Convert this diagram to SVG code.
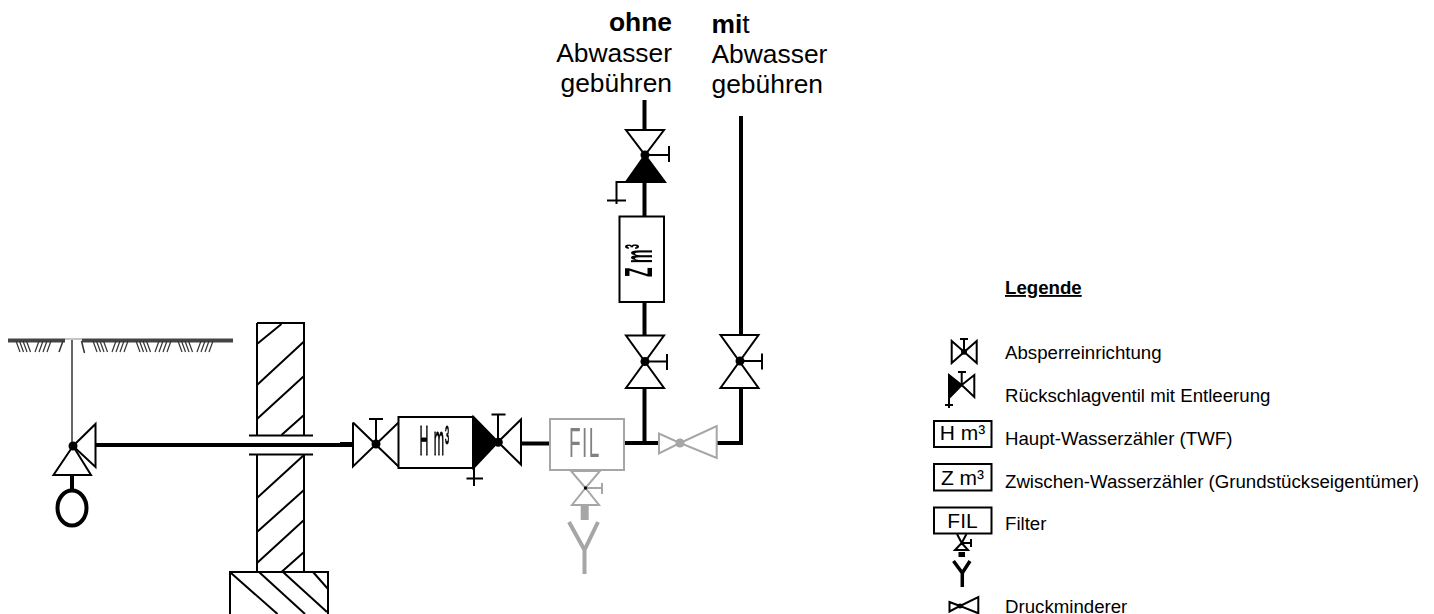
<svg xmlns="http://www.w3.org/2000/svg" width="1434" height="614" viewBox="0 0 1434 614">
<style>
text{font-family:"Liberation Sans",Arial,sans-serif;fill:#000}
.big{font-size:26.4px}
.leg{font-size:18.67px}
.box{font-size:21px}
.ln{fill:none;stroke:#000;stroke-width:2}
.wht{fill:#fff;stroke:#000;stroke-width:2}
.blk{fill:#000;stroke:#000;stroke-width:2}
.gr{fill:none;stroke:#a6a6a6;stroke-width:2}
.grw{fill:#fff;stroke:#a6a6a6;stroke-width:2}
.pipe{fill:none;stroke:#000;stroke-width:4}
.thin{fill:none;stroke:#333;stroke-width:1.5}
.squash{filter:url(#gray)}
</style>
<defs>
<filter id="gray" x="-20%" y="-20%" width="140%" height="140%"><feOffset dx="0" dy="0"/></filter>
<path id="hatch" d="M0 341l4 11M3.500 341l4 11M7 341l4 11M10.500 341l4 11M19 352l4-11M23 352l4-11M27 352l4-11M31 352l4-11" fill="none" stroke="#333" stroke-width="1.200"/>
</defs>
<g id="connectors">
<path class="pipe" d="M95 445H352"/>
<path class="pipe" d="M340 444H353"/>
<path class="pipe" d="M521 443.500H550"/>
<path class="pipe" d="M624 443H659"/>
<path class="pipe" d="M644.500 100V130M644.500 182V217M644.500 302V335M644.500 388V443"/>
<path class="pipe" d="M716 443H741V388M741 335V116"/>
<path d="M584.700 506V520" fill="none" stroke="#a6a6a6" stroke-width="8"/>
</g>
<g id="ground">
<path d="M8 340.500H65M82 340.500H233" fill="none" stroke="#444" stroke-width="4"/>
<path d="M65 339H82" fill="none" stroke="#888" stroke-width="1"/>
<use href="#hatch" x="16"/>
<use href="#hatch" x="93"/>
<use href="#hatch" x="136"/>
<use href="#hatch" x="178"/>
<path d="M59 352l4-11M81.500 341l3 12" fill="none" stroke="#333" stroke-width="1.500"/>
</g>
<g id="wall">
<path class="ln" d="M257 323H304V435M257 323V435M257 454V572M304 454V572M249 435.500H313M249 454.500H313"/>
<path class="ln" d="M281.500 324L257 344M304 341.500L257 385M304 376L257 419M304 415L281.500 435M304 455L257 498M304 490L257 532M304 520L257 563M304 552L281.500 572"/>
<path class="ln" d="M230 614V572H328V614"/>
<path class="ln" d="M231 573L277.500 614M259 572L305 614M283 572L327 612M313 572L328 589"/>
</g>
<g id="hydrant">
<path class="thin" d="M72 340V446"/>
<path class="ln" d="M95.500 424V467L73 446Z"/>
<path class="ln" d="M73 446L53.500 475H91Z"/>
<path class="pipe" d="M72 475V490"/>
<ellipse cx="72" cy="508" rx="14.500" ry="17.500" fill="none" stroke="#000" stroke-width="4"/>
<circle cx="73" cy="446" r="4.500"/>
</g>
<g id="valve-in">
<path class="ln" d="M353 422.500V466.500L398.500 422.500M353 422.500L398.500 466.500M376 444V419M369 419H383"/>
<circle cx="376" cy="444" r="4.500"/>
</g>
<g id="meter-h">
<rect class="wht" x="398.500" y="417" width="74.500" height="51"/>
<text class="squash" transform="translate(419.500 455) scale(.62 2.100)" font-size="20" letter-spacing="1.500" stroke="#000" stroke-width=".4">H m³</text>
</g>
<g id="check-valve">
<path class="blk" d="M473.500 417V468L498 442Z"/>
<path class="ln" d="M474 468V486M466.500 478.500H483"/>
<path class="ln" d="M521 419.500V464.500L498 442ZM498 442V414.500M491.500 414.500H505.500"/>
<circle cx="498.300" cy="442.300" r="4.500"/>
</g>
<g id="filter">
<rect class="grw" x="550" y="419" width="74" height="51"/>
<text class="squash" transform="translate(569 456.500) scale(.95 2.100)" font-size="20" style="fill:#808080" letter-spacing="1.500">FIL</text>
<path class="gr" d="M571 471H600L585.500 488ZM585.500 488L572 505H599ZM585.500 488H602M602 483V494"/>
<circle cx="585.500" cy="488" r="1.700"/>
<path d="M569 522L584.500 550L598 522M584.500 550V574" fill="none" stroke="#a6a6a6" stroke-width="4"/>
</g>
<g id="reducer">
<path class="grw" d="M659 433.500V453.500L680 443ZM716.700 426V458L680 443Z"/>
<circle cx="680" cy="443" r="4.500" fill="#a6a6a6"/>
</g>
<g id="valve-left">
<path class="ln" d="M626 335.500H664L626 388H664ZM645 361.500H667M667 354V370"/>
<circle cx="645" cy="361.500" r="4.500"/>
</g>
<g id="valve-right">
<path class="ln" d="M720.500 335H758.500L720.500 388H758.500ZM740 361H762M762 353.500V369.500"/>
<circle cx="740" cy="361" r="4.500"/>
</g>
<g id="valve-top">
<path class="ln" d="M626 130H664L645 155ZM645 155H669M669 146V162"/>
<path class="blk" d="M645 155L626 182H665Z"/>
<path class="ln" d="M626 182H616.500V204M607 200.500H626"/>
<circle cx="645" cy="155" r="4.500"/>
</g>
<g id="meter-z">
<rect class="wht" x="619.500" y="216.500" width="44.500" height="85.500"/>
<text class="squash" transform="translate(652 277) rotate(-90) scale(.78 1.900)" font-size="20" font-weight="bold">Z m³</text>
</g>
<g id="labels">
<text class="big" x="672" y="31" text-anchor="end" font-weight="bold">ohne</text>
<text class="big" x="672" y="62" text-anchor="end">Abwasser</text>
<text class="big" x="672" y="92" text-anchor="end">gebühren</text>
<text class="big" x="711.500" y="32.500"><tspan font-weight="bold">mi</tspan>t</text>
<text class="big" x="711.500" y="63">Abwasser</text>
<text class="big" x="711.500" y="93">gebühren</text>
</g>
<g id="legend">
<text class="leg" x="1005" y="294" font-weight="bold" text-decoration="underline">Legende</text>
<g id="leg-valve">
<path class="ln" d="M951.700 341V363L976.700 341V363ZM964 352V339M960 339H968"/>
<circle cx="964" cy="351.700" r="3"/>
<text class="leg" x="1005" y="358.500">Absperreinrichtung</text>
</g>
<g id="leg-check">
<path class="blk" d="M949 375V398L961.700 385Z"/>
<path class="ln" d="M974.300 375V397L961.700 385ZM961.700 385V372M958 372H966M949 398V408M945 405H953"/>
<text class="leg" x="1005" y="402">Rückschlagventil mit Entleerung</text>
</g>
<g id="leg-h">
<rect class="wht" x="934" y="421" width="57.500" height="26"/>
<text class="box" x="962.500" y="440" text-anchor="middle">H m³</text>
<text class="leg" x="1005" y="445">Haupt-Wasserzähler (TWF)</text>
</g>
<g id="leg-z">
<rect class="wht" x="934" y="464" width="57.500" height="26.500"/>
<text class="box" x="962.500" y="485" text-anchor="middle">Z m³</text>
<text class="leg" x="1005" y="487.500">Zwischen-Wasserzähler (Grundstückseigentümer)</text>
</g>
<g id="leg-fil">
<rect class="wht" x="934" y="507.500" width="57.500" height="26"/>
<text class="box" x="962.500" y="528" text-anchor="middle">FIL</text>
<text class="leg" x="1005" y="529.500">Filter</text>
<path class="ln" d="M957 534L961.700 543L966.500 534M961.700 543L955 550H968ZM961.700 543H971M971 539V547"/>
<path d="M958.500 552H965V557H958.500Z"/>
<path d="M953.500 561L962.300 573L970 561M962.300 573V587" fill="none" stroke="#000" stroke-width="3.500"/>
</g>
<g id="leg-red">
<path class="ln" d="M949.500 602V611.500L960 606ZM978.300 597V613.300L960 606Z"/>
<circle cx="960" cy="606" r="2.500"/>
<text class="leg" x="1005" y="612.500">Druckminderer</text>
</g>
</g>
</svg>
